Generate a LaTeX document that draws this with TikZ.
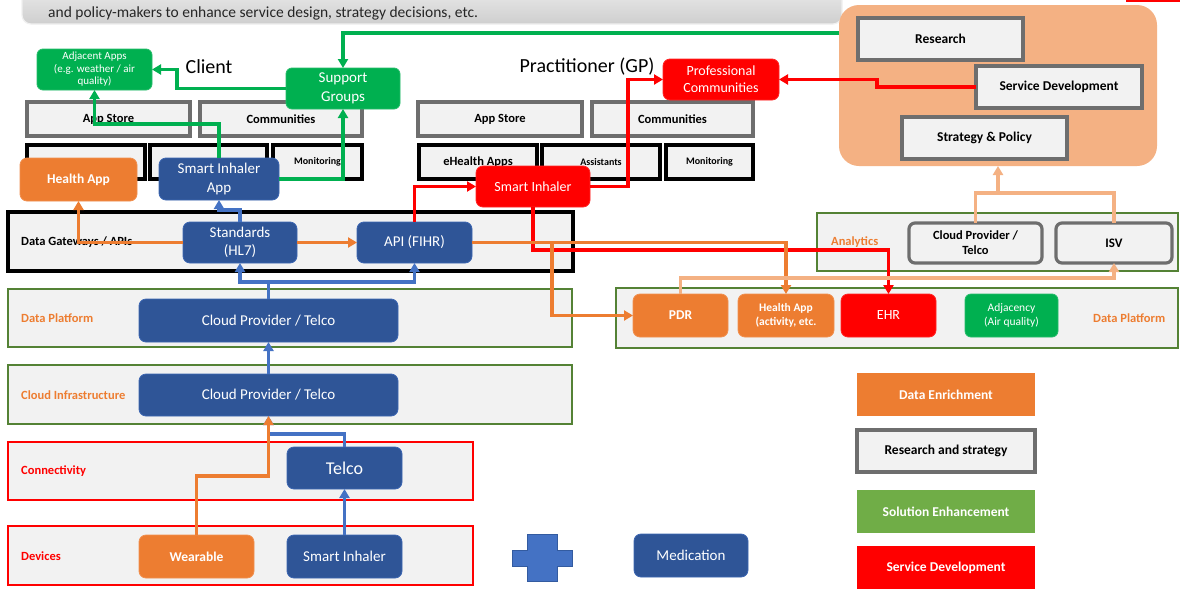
\documentclass[tikz,border=0pt]{standalone}
\usepackage{fontspec}
\setmainfont{Carlito}
\usetikzlibrary{arrows.meta}

\definecolor{cblue}{HTML}{2F5597}
\definecolor{cbline}{HTML}{4472C4}
\definecolor{corange}{HTML}{ED7D31}
\definecolor{cred}{HTML}{FF0000}
\definecolor{cgreen}{HTML}{00B050}
\definecolor{cgreenb}{HTML}{70AD47}
\definecolor{cframe}{HTML}{548235}
\definecolor{clor}{HTML}{F4B183}
\definecolor{cgrayf}{HTML}{F2F2F2}
\definecolor{cgrayd}{HTML}{6E6E6E}
\definecolor{ctext}{HTML}{262626}

\newcommand\fsz[2]{\fontsize{#1}{#2}\selectfont}

\tikzset{
  base/.style={inner sep=0pt, outer sep=0pt, align=center},
  sz/.style 2 args={minimum width=#1, minimum height=#2},
  blueb/.style={base, fill=cblue, draw=cbline!60!cblue, line width=0.8, rounded corners=7, text=white},
  orangeb/.style={base, fill=corange, draw=corange!85!white, line width=0.8, rounded corners=7, text=white},
  redb/.style={base, fill=cred, draw=cred!85!white, line width=0.8, rounded corners=7, text=white},
  greenb/.style={base, fill=cgreen, draw=cgreen!85!white, line width=0.8, rounded corners=6, text=white},
  grayb/.style={base, fill=cgrayf, draw=cgrayd, line width=3.2, text=black, font=\bfseries\fsz{12.5}{15}},
  blackb/.style={base, fill=cgrayf, draw=black, line width=3.2, text=black},
  layerb/.style={base, fill=cgrayf, line width=2.8},
  legb/.style={base, sz={178}{43}, text=white, font=\bfseries\fsz{13.5}{16}},
  lbl/.style={inner sep=0pt, anchor=west, font=\bfseries\fsz{12.5}{15}},
  tip/.style={-{Triangle[length=9,width=10]}},
  gline/.style={draw=cgreen, line width=3.2},
  rline/.style={draw=cred, line width=3.2},
  oline/.style={draw=corange, line width=3.2},
  bline/.style={draw=cbline, line width=3.2},
  lline/.style={draw=clor, line width=3.2},
}

\begin{document}
\begin{tikzpicture}[x=1pt, y=-1pt]
\useasboundingbox (0,0) rectangle (1180,592);
\fill[white] (0,0) rectangle (1180,592);

% ---- heading banner and tab ----
\node[base, sz={820}{44}, rounded corners=9, top color=gray!12, bottom color=gray!38,
      draw=white!88!gray, line width=1.2] (ban) at (432,2) {};
\node[inner sep=0pt, anchor=west, text=ctext, font=\fsz{15.5}{18}] (bant) at (48,13)
  {and policy-makers to enhance service design, strategy decisions, etc.};
\node[base, draw=cred, line width=1.5, sz={70}{14}] (tab) at (1162,-6) {};

% ---- outcome panel ----
\node[base, fill=clor, rounded corners=20, sz={318}{161}] (outbox) at (998,85.5) {};
\node[grayb, sz={165}{42}, font=\bfseries\fsz{13.5}{16}] (res) at (940.5,39) {Research};
\node[grayb, sz={166}{42}, font=\bfseries\fsz{13.5}{16}] (sdev) at (1059,87) {Service Development};
\node[grayb, sz={165}{42}, font=\bfseries\fsz{13.5}{16}] (stp) at (984.5,138) {Strategy \& Policy};

% ---- layer bands ----
\node[layerb, draw=black, line width=3.2, sz={565}{59}] (dg) at (290.5,241.5) {};
\node[layerb, draw=cframe, sz={564}{58}] (dpl) at (290,318) {};
\node[layerb, draw=cframe, sz={564}{59}] (ci) at (290,394.5) {};
\node[layerb, draw=cred, sz={465}{58}] (conn) at (240.5,471) {};
\node[layerb, draw=cred, sz={465}{59}] (dev) at (240.5,555.5) {};
\node[layerb, draw=cframe, sz={361}{58}] (ana) at (997.5,242) {};
\node[layerb, draw=cframe, sz={562}{60}] (dpr) at (897,318) {};

\node[lbl, text=black] (dgl) at (21,242) {Data Gateways / APIs};
\node[lbl, text=corange] (dpll) at (21,318) {Data Platform};
\node[lbl, text=corange] (cil) at (21,395) {Cloud Infrastructure};
\node[lbl, text=cred] (connl) at (21,471) {Connectivity};
\node[lbl, text=cred] (devl) at (21,556) {Devices};
\node[lbl, text=corange] (anal) at (831,242) {Analytics};
\node[lbl, text=corange] (dprl) at (1093,318) {Data Platform};

% ---- client side ----
\node[font=\fsz{20}{24}, inner sep=0pt] (client) at (209,67) {Client};
\node[grayb, sz={163}{34}] (cas) at (108.5,119) {App Store};
\node[grayb, sz={162}{34}] (ccom) at (281,119) {Communities};
\node[blackb, sz={118}{34}] (crow1) at (86,162) {};
\node[blackb, sz={117}{34}] (crow2) at (208.5,162) {};
\node[blackb, sz={89}{34}, font=\bfseries\fsz{10}{12}] (crow3) at (317.5,162) {Monitoring};
\node[greenb, sz={115}{41}, font=\fsz{11}{12.5}] (adj) at (94.5,69.5) {Adjacent Apps\\(e.g. weather / air\\quality)};
\node[greenb, sz={114}{41}, font=\fsz{15}{19}] (sg) at (343,88.5) {Support\\Groups};
\node[orangeb, sz={117}{43}, font=\bfseries\fsz{13.5}{16}] (hap) at (78.5,179.5) {Health App};
\node[blueb, sz={120}{42}, font=\fsz{15}{19}] (sia) at (219,179) {Smart Inhaler\\App};

% ---- practitioner side ----
\node[font=\fsz{20}{24}, inner sep=0pt] (gp) at (587,67) {Practitioner (GP)};
\node[grayb, sz={164}{34}] (gas) at (500,119) {App Store};
\node[grayb, sz={161}{34}] (gcom) at (672.5,119) {Communities};
\node[blackb, sz={118}{34}, font=\bfseries\fsz{12.5}{15}] (geh) at (478,162) {eHealth Apps};
\node[blackb, sz={118}{34}, font=\bfseries\fsz{10}{12}] (gass) at (601,162) {Assistants};
\node[blackb, sz={87}{34}, font=\bfseries\fsz{10}{12}] (gmon) at (709.5,162) {Monitoring};
\node[redb, sz={116}{41}, font=\fsz{14}{17}] (pc) at (721,79.5) {Professional\\Communities};
\node[redb, sz={114}{41}, font=\fsz{14}{17}] (si) at (533,186.5) {Smart Inhaler};

% ---- platform stack ----
\node[blueb, sz={114}{41}, font=\fsz{15}{18}] (std) at (240,242.5) {Standards\\(HL7)};
\node[blueb, sz={115}{41}, font=\fsz{15}{18}] (api) at (414.5,242.5) {API (FIHR)};
\node[blueb, sz={259}{43}, font=\fsz{15}{18}] (cp1) at (268.5,320.5) {Cloud Provider / Telco};
\node[blueb, sz={259}{42}, font=\fsz{15}{18}] (cp2) at (268.5,395) {Cloud Provider / Telco};
\node[blueb, sz={115}{42}, font=\fsz{18}{21}] (telco) at (344.5,468) {Telco};
\node[orangeb, sz={115}{43}, font=\bfseries\fsz{13.5}{16}] (wear) at (196.5,556.5) {Wearable};
\node[blueb, sz={115}{43}, font=\fsz{15}{18}] (sid) at (344.5,556.5) {Smart Inhaler};

% ---- plus sign and medication ----
\draw[fill=cbline, draw=cblue!80!cbline, line width=0.8]
  (527,534) -- (557,534) -- (557,550) -- (572,550) -- (572,566) -- (557,566) --
  (557,581) -- (527,581) -- (527,566) -- (512,566) -- (512,550) -- (527,550) -- cycle;
\node[blueb, sz={114}{43}, font=\fsz{15}{18}] (med) at (691,555.5) {Medication};

% ---- analytics and data platform (right) ----
\node[grayb, rounded corners=6, sz={133}{40}, font=\bfseries\fsz{12.5}{15}] (acp) at (975.5,243) {Cloud Provider /\\Telco};
\node[grayb, rounded corners=6, sz={116}{40}, font=\bfseries\fsz{13}{15}] (isv) at (1114,243) {ISV};
\node[orangeb, sz={95}{43}, font=\bfseries\fsz{13.5}{16}] (pdr) at (680.5,315.5) {PDR};
\node[orangeb, sz={96}{43}, font=\bfseries\fsz{11.5}{14}] (hapr) at (786,315.5) {Health App\\(activity, etc.};
\node[redb, sz={95}{43}, font=\fsz{14}{17}] (ehr) at (888.5,315.5) {EHR};
\node[greenb, sz={93}{43}, font=\fsz{11.5}{14}] (adjc) at (1011.5,315.5) {Adjacency\\(Air quality)};

% ---- legend ----
\node[legb, fill=corange] (lg1) at (946,394.5) {Data Enrichment};
\node[grayb, sz={178}{42}, font=\bfseries\fsz{13.5}{16}] (lg2) at (946,451) {Research and strategy};
\node[legb, fill=cgreenb] (lg3) at (946,511.5) {Solution Enhancement};
\node[legb, fill=cred] (lg4) at (946,567.5) {Service Development};

% ---- connectors: green ----
\draw[gline, tip] (outbox.west |- 0,33) -| (sg.north);
\draw[gline, tip] (sg.west) -- ++(-109,0) |- (adj.east);
\draw[gline, tip] (sia.north) -- (sia.north |- 0,124) -| (adj.south);
\draw[gline, tip] (sia.east) -| (sg.south);

% ---- connectors: red ----
\draw[rline, tip] (sdev.west) -- ++(-99,0) |- (pc.east);
\draw[rline, tip] (si.east) -- ++(38,0) |- (pc.west);
\draw[rline, tip] (api.north) |- (si.west);
\draw[rline, tip] (si.south) -- ++(0,43) -| (ehr.north);

% ---- connectors: blue ----
\draw[bline, tip] (sid.north) -- (telco.south);
\draw[bline, tip] (telco.north) -- ++(0,-13) -| (cp2.south);
\draw[bline, tip] (cp2.north) -- (cp1.south);
\draw[bline, tip] (cp1.north) -- ++(0,-17) -| (std.south);
\draw[bline, tip] (cp1.north) -- ++(0,-17) -| (api.south);
\draw[bline, tip] (std.north) -- ++(0,-12) -| (sia.south);

% ---- connectors: orange ----
\coordinate (obr) at (552,242.5);
\draw[oline, tip] (std.east) -- (api.west);
\draw[oline, tip] (std.west) -| (hap.south);
\draw[oline, tip] (api.east) -| (hapr.north);
\draw[oline, tip] (obr) |- (pdr.west);
\draw[oline, tip] (wear.north) -- ++(0,-59) -| (cp2.south);

% ---- connectors: light orange ----
\coordinate (jn) at (998,193);
\draw[lline] (acp.north) |- (jn) -| (isv.north);
\draw[lline, tip] (jn) -- (outbox.south -| jn);
\draw[lline, tip] (pdr.north) -- ++(0,-16) -| (isv.south);

\end{tikzpicture}
\end{document}
